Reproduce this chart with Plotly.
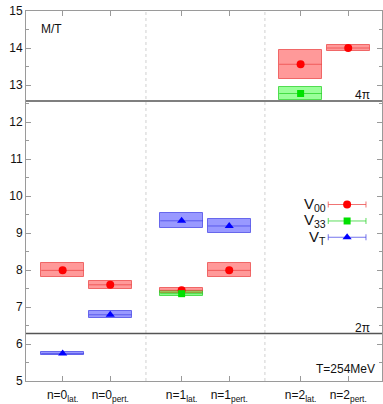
import math
import plotly.graph_objects as go

# ---- data ----
categories = ["n=0<sub>lat.</sub>", "n=0<sub>pert.</sub>", "n=1<sub>lat.</sub>",
              "n=1<sub>pert.</sub>", "n=2<sub>lat.</sub>", "n=2<sub>pert.</sub>"]
cat_pos = [0, 1, 2.5, 3.5, 5, 6]

v00_val = [7.99, 7.60, 7.45, 7.99, 13.56, 14.00]
v00_err = [0.19, 0.10, 0.06, 0.19, 0.39, 0.09]

v33_val = [None, None, 7.36, None, 12.77, None]
v33_err = [None, None, 0.06, None, 0.165, None]

vt_val = [5.74, 6.79, 9.33, 9.19, None, None]
vt_err = [0.04, 0.10, 0.20, 0.20, None, None]

y_ticks = [5, 6, 7, 8, 9, 10, 11, 12, 13, 14, 15]
separators = [1.75, 4.25]
thresholds = [2 * math.pi, 4 * math.pi]

# ---- style ----
W, H = 383, 404
ML, MR, MT, MB = 26, 0, 11, 19
HALF = 0.45
FONT = "Liberation Sans, Arial, sans-serif"
AXC = "#9a9a9a"

series = [
    dict(name="V<sub>00</sub>", val=v00_val, err=v00_err, fill="rgba(255,0,0,0.40)",
         edge="rgba(235,70,70,0.75)", mc="#ff0000", sym="circle", ms=8),
    dict(name="V<sub>33</sub>", val=v33_val, err=v33_err, fill="rgba(0,255,0,0.40)",
         edge="rgba(40,210,40,0.75)", mc="#00e000", sym="square", ms=7),
    dict(name="V<sub>T</sub>", val=vt_val, err=vt_err, fill="rgba(0,0,255,0.40)",
         edge="rgba(70,70,230,0.75)", mc="#0000ff", sym="triangle-up", ms=8),
]

fig = go.Figure()

# boxes
for s in series:
    xs, bases, heights = [], [], []
    for x, v, e in zip(cat_pos, s["val"], s["err"]):
        if v is None:
            continue
        xs.append(x)
        bases.append(v - e)
        heights.append(2 * e)
    fig.add_trace(go.Bar(x=xs, y=heights, base=bases, width=2 * HALF,
                         marker=dict(color=s["fill"], line=dict(color=s["edge"], width=1)),
                         showlegend=False, hoverinfo="skip"))

# center lines + markers
for s in series:
    xs, ys = [], []
    for x, v in zip(cat_pos, s["val"]):
        if v is None:
            continue
        xs.append(x)
        ys.append(v)
    fig.add_trace(go.Scatter(x=xs, y=ys, mode="markers",
                             marker=dict(color=s["mc"], symbol=s["sym"], size=s["ms"]),
                             error_x=dict(type="constant", value=HALF, width=0,
                                          color=s["edge"], thickness=1),
                             showlegend=False))

# manual legend (text left of sample) on overlay axes
leg_x = 0.902
leg_half = 0.053
leg_rows = [0.477, 0.4325, 0.3885]
for s, ly in zip(series, leg_rows):
    fig.add_trace(go.Scatter(x=[leg_x], y=[ly], mode="markers", xaxis="x2", yaxis="y2",
                             marker=dict(color=s["mc"], symbol=s["sym"], size=s["ms"]),
                             error_x=dict(type="constant", value=leg_half, width=3,
                                          color=s["edge"], thickness=1),
                             showlegend=False, hoverinfo="skip"))
    fig.add_annotation(x=0.849, y=ly, xref="paper", yref="paper", text=s["name"],
                       showarrow=False, xanchor="right", yanchor="middle",
                       font=dict(size=15, color="#111", family=FONT))

shapes = []
for t in thresholds:
    shapes.append(dict(type="line", xref="paper", yref="y", x0=0, x1=1, y0=t, y1=t,
                       line=dict(color="#555", width=1.4), layer="above"))
for sx in separators:
    shapes.append(dict(type="line", xref="x", yref="paper", x0=sx, x1=sx, y0=0, y1=1,
                       line=dict(color="#d0d0d0", width=1, dash="dot"), layer="below"))

annos = [
    dict(x=0.0364, y=0.952, text="M/T", xanchor="left"),
    dict(x=0.972, y=0.772, text="4π", xanchor="right"),
    dict(x=0.972, y=0.143, text="2π", xanchor="right"),
    dict(x=0.986, y=0.032, text="T=254MeV", xanchor="right"),
]
for a in annos:
    fig.add_annotation(xref="paper", yref="paper", showarrow=False, yanchor="middle",
                       font=dict(size=12, color="#111", family=FONT), **a)

fig.update_layout(
    width=W, height=H, margin=dict(l=ML, r=MR, t=MT, b=MB),
    paper_bgcolor="white", plot_bgcolor="white",
    barmode="overlay", bargap=0, showlegend=False,
    font=dict(family=FONT, size=12, color="#111"),
    shapes=shapes,
    xaxis=dict(range=[-0.77, 6.71], tickvals=cat_pos, ticktext=categories,
               ticks="inside", ticklen=5, tickcolor=AXC, showline=True, linecolor=AXC,
               linewidth=1, mirror="ticks", showgrid=False, zeroline=False,
               ticklabelstandoff=3,
               tickfont=dict(size=12, family=FONT, color="#111")),
    yaxis=dict(range=[5, 15], tickvals=y_ticks, ticks="inside", ticklen=5,
               tickcolor=AXC, showline=True, linecolor=AXC, linewidth=1, mirror="ticks",
               showgrid=False, zeroline=False,
               minor=dict(dtick=0.5, ticks="inside", ticklen=3, tickcolor=AXC, showgrid=False),
               tickfont=dict(size=12, family=FONT, color="#111")),
    xaxis2=dict(overlaying="x", range=[0, 1], visible=False, showgrid=False),
    yaxis2=dict(overlaying="y", range=[0, 1], visible=False, showgrid=False),
)

fig.write_html("out.html")
